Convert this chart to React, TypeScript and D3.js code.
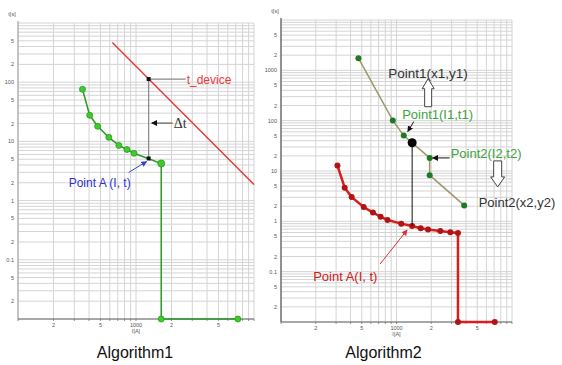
import React from 'react';
import * as d3 from 'd3';

// ---- data (current I [A], time t [s]) ----
// Algorithm1
const greenCurveI = [352, 405, 473, 588, 716, 838, 962, 1636, 1636, 7300];
const greenCurveT = [76, 27.6, 18, 11.7, 8.55, 7.3, 6.3, 4.24, 0.01, 0.01];
const deviceLineI = [630, 10000];
const deviceLineT = [470, 1.87];
const pointA1 = { I: 1280, t: 5.15 };
const tDevice1 = { I: 1280, t: 113 };

// Algorithm2
const oliveCurveI = [468, 929, 1156, 1937, 1937, 3855];
const oliveCurveT = [1745, 101, 50.5, 18.2, 8.26, 2.07];
const redCurveI = [308, 356, 409, 520, 625, 728, 836, 1099, 1366, 1620, 1875, 2395, 2924, 3406, 3406, 7090];
const redCurveT = [12.8, 4.65, 3.03, 1.92, 1.49, 1.24, 1.06, 0.9, 0.81, 0.73, 0.686, 0.643, 0.605, 0.586, 0.01, 0.01];
const pointB2 = { I: 1366, t: 36.5 };
const pointA2 = { I: 1366, t: 0.81 };

// ticks
const xTickVals = [200, 500, 1000, 2000, 5000];
const xTickText = ['2', '5', '1000', '2', '5'];
const yTickLeft = [500, 200, 100, 50, 20, 10, 5, 2, 1, 0.5, 0.2, 0.1, 0.05, 0.02];
const yTickRight = [5000, 2000, 1000, 500, 200, 100, 50, 20, 10, 5, 2, 1, 0.5, 0.2, 0.1, 0.05, 0.02];

const FONT = 'Liberation Sans, Arial, sans-serif';

const zip = (a: number[], b: number[]) => a.map((v, i) => [v, b[i]] as [number, number]);

function yLabel(v: number) {
  const e = Math.log10(v);
  if (Math.abs(e - Math.round(e)) < 1e-9) return String(+v.toPrecision(3));
  return String(Math.round(v / Math.pow(10, Math.floor(e))));
}

function minorVals(lo: number, hi: number) {
  const out: number[] = [];
  for (let d = lo; d < hi; d *= 10) for (let k = 1; k < 10; k++) out.push(d * k);
  out.push(hi);
  return out;
}

function Panel({ x, y, yTicks, axisColor, labelX }: any) {
  const [x0, x1] = x.range();
  const [y0, y1] = y.range();
  const xd = x.domain();
  const yd = y.domain();
  return (
    <g>
      {minorVals(yd[0], yd[1]).map((v, i) => (
        <line key={'h' + i} x1={x0} x2={x1} y1={y(v)} y2={y(v)} stroke="#d4d4d4" strokeWidth={1} />
      ))}
      {minorVals(xd[0], xd[1]).map((v, i) => (
        <g key={'v' + i}>
          <line x1={x(v)} x2={x(v)} y1={y1} y2={y0} stroke="#d4d4d4" strokeWidth={1} />
          <line x1={x(v)} x2={x(v)} y1={y0} y2={y0 + 2} stroke="#777" strokeWidth={0.8} />
        </g>
      ))}
      <line x1={x0} x2={x0} y1={y1 - 2} y2={y0} stroke={axisColor} strokeWidth={1.2} />
      <line x1={x0} x2={x1} y1={y0} y2={y0} stroke="#666" strokeWidth={1.2} />
      {yTicks.map((v: number, i: number) => (
        <text key={'yt' + i} x={labelX} y={y(v) + 2} fontSize={5.5} fill="#555" textAnchor="end" fontFamily={FONT}>
          {yLabel(v)}
        </text>
      ))}
      {xTickVals.map((v, i) => (
        <text key={'xt' + i} x={x(v)} y={y0 + 8} fontSize={5.5} fill="#555" textAnchor="middle" fontFamily={FONT}>
          {xTickText[i]}
        </text>
      ))}
      <text x={x(1000)} y={y0 + 14} fontSize={5.5} fill="#555" textAnchor="middle" fontFamily={FONT}>I[A]</text>
      <text x={labelX - 2} y={y1 - 7} fontSize={5.5} fill="#555" textAnchor="middle" fontFamily={FONT}>t[s]</text>
    </g>
  );
}

export default function App() {
  const W = 562, H = 365;

  const xL = d3.scaleLog().domain([100, 10000]).range([18, 254]);
  const yL = d3.scaleLog().domain([0.01, 1000]).range([319, 23]);
  const xR = d3.scaleLog().domain([100, 10000]).range([281, 512]);
  const yR = d3.scaleLog().domain([0.01, 10000]).range([322, 20]);

  const lineL = d3.line<[number, number]>().x(d => xL(d[0])).y(d => yL(d[1]));
  const lineR = d3.line<[number, number]>().x(d => xR(d[0])).y(d => yR(d[1]));

  const green = zip(greenCurveI, greenCurveT);
  const dev = zip(deviceLineI, deviceLineT);
  const olive = zip(oliveCurveI, oliveCurveT);
  const red = zip(redCurveI, redCurveT);

  const aX = xL(pointA1.I), aY = yL(pointA1.t), dY = yL(tDevice1.t);
  const bX = xR(pointB2.I), bY = yR(pointB2.t), a2Y = yR(pointA2.t);
  const p1X = xR(oliveCurveI[2]), p1Y = yR(oliveCurveT[2]);
  const p2X = xR(oliveCurveI[3]), p2Y = yR(oliveCurveT[3]);

  const hollowUp = (cx: number, top: number, bot: number) =>
    `M${cx},${top} L${cx + 6},${top + 10} L${cx + 3.5},${top + 10} L${cx + 3.5},${bot} L${cx - 3.5},${bot} L${cx - 3.5},${top + 10} L${cx - 6},${top + 10} Z`;
  const hollowDown = (cx: number, top: number, bot: number) =>
    `M${cx},${bot} L${cx + 7},${bot - 10} L${cx + 4},${bot - 10} L${cx + 4},${top} L${cx - 4},${top} L${cx - 4},${bot - 10} L${cx - 7},${bot - 10} Z`;

  return (
    <svg width={W} height={H} style={{ position: 'absolute', left: 0, top: 0, background: '#fff' }}>
      <defs>
        {[['ak', '#111'], ['ab', '#3344cc'], ['ar', '#dd3333']].map(([id, c]) => (
          <marker key={id} id={id} viewBox="0 0 10 10" refX="9" refY="5" markerWidth="6" markerHeight="6" orient="auto-start-reverse">
            <path d="M0,0 L10,5 L0,10 z" fill={c} />
          </marker>
        ))}
      </defs>
      <rect width={W} height={H} fill="#fff" />

      {/* Algorithm1 */}
      <Panel x={xL} y={yL} yTicks={yTickLeft} axisColor="#aaa" labelX={14} />
      <path d={lineL(dev) || ''} fill="none" stroke="#e83a3a" strokeWidth={1.5} />
      <path d={lineL(green) || ''} fill="none" stroke="#2a9a2a" strokeWidth={1.5} />
      {green.map((d, i) => (
        <circle key={'g' + i} cx={xL(d[0])} cy={yL(d[1])} r={i === 7 ? 3.5 : 3} fill="#3ecc2a" stroke="#279a1f" strokeWidth={0.8} />
      ))}
      <line x1={aX} x2={aX} y1={dY} y2={aY} stroke="#888" strokeWidth={1.2} />
      <line x1={aX} x2={aX + 37} y1={dY} y2={dY} stroke="#888" strokeWidth={1.2} />
      <rect x={aX - 2} y={dY - 2} width={4} height={4} fill="#111" />
      <rect x={aX - 2} y={aY - 2} width={4} height={4} fill="#111" />
      <text x={aX + 38} y={dY + 4.5} fontSize={12} fill="#e83a3a" fontFamily={FONT}>t_device</text>
      <line x1={aX + 24} x2={aX + 3} y1={dY + 44} y2={dY + 44} stroke="#444" strokeWidth={1} markerEnd="url(#ak)" />
      <text x={aX + 25} y={dY + 49} fontSize={14} fill="#333" fontFamily="Liberation Serif, Times New Roman, serif">Δt</text>
      <line x1={aX - 20} x2={aX - 2} y1={aY + 14} y2={aY + 3} stroke="#3344cc" strokeWidth={1} markerEnd="url(#ab)" />
      <text x={aX - 80} y={aY + 29} fontSize={12} fill="#3333cc" fontFamily={FONT}>Point A (I, t)</text>
      <text x={xL(1000) - 1} y={358} fontSize={16} fill="#111" textAnchor="middle" fontFamily={FONT}>Algorithm1</text>

      {/* Algorithm2 */}
      <Panel x={xR} y={yR} yTicks={yTickRight} axisColor="#555" labelX={277} />
      <path d={lineR(olive) || ''} fill="none" stroke="#9c9868" strokeWidth={1.5} />
      {olive.map((d, i) => (
        <circle key={'o' + i} cx={xR(d[0])} cy={yR(d[1])} r={3} fill="#1f7a24" />
      ))}
      <path d={lineR(red) || ''} fill="none" stroke="#d81e1e" strokeWidth={2.5} />
      {red.map((d, i) => (
        <circle key={'r' + i} cx={xR(d[0])} cy={yR(d[1])} r={3} fill="#b01414" />
      ))}
      <line x1={bX} x2={bX} y1={bY} y2={a2Y} stroke="#111" strokeWidth={1} />
      <circle cx={bX} cy={bY} r={4.5} fill="#000" />

      <text x={bX - 24} y={bY - 65} fontSize={13.5} fill="#333" fontFamily={FONT}>Point1(x1,y1)</text>
      <path d={hollowUp(bX + 16, bY - 64, bY - 36)} fill="#fff" stroke="#444" strokeWidth={1} />
      <text x={bX - 10} y={bY - 24} fontSize={13} fill="#3da33d" fontFamily={FONT}>Point1(I1,t1)</text>
      <line x1={p1X + 10} x2={p1X + 4} y1={p1Y - 14} y2={p1Y - 4} stroke="#111" strokeWidth={1} markerEnd="url(#ak)" />
      <text x={p2X + 21} y={p2Y + 0.5} fontSize={13} fill="#3da33d" fontFamily={FONT}>Point2(I2,t2)</text>
      <line x1={p2X + 20} x2={p2X + 3} y1={p2Y} y2={p2Y} stroke="#111" strokeWidth={1} markerEnd="url(#ak)" />
      <path d={hollowDown(p2X + 68, p2Y + 3, p2Y + 29)} fill="#fff" stroke="#444" strokeWidth={1} />
      <text x={p2X + 49} y={p2Y + 49} fontSize={13} fill="#333" fontFamily={FONT}>Point2(x2,y2)</text>
      <line x1={bX - 32} x2={bX - 5} y1={a2Y + 38} y2={a2Y + 4} stroke="#dd3333" strokeWidth={1} markerEnd="url(#ar)" />
      <text x={bX - 99} y={a2Y + 55} fontSize={13} fill="#cc2222" fontFamily={FONT}>Point A(I, t)</text>
      <text x={xR(1000) - 13} y={358} fontSize={16} fill="#111" textAnchor="middle" fontFamily={FONT}>Algorithm2</text>
    </svg>
  );
}
